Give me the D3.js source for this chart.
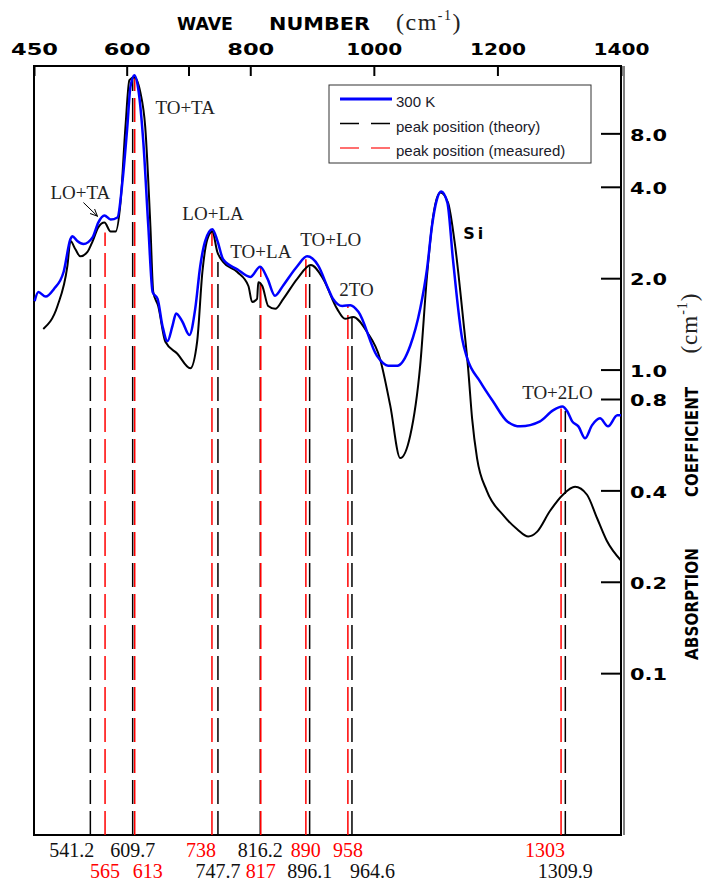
<!DOCTYPE html>
<html><head><meta charset="utf-8">
<script src="https://cdn.jsdelivr.net/npm/d3@7"></script>
<style>body{margin:0;background:#fff}svg{display:block}</style>
</head><body><svg id="c" width="704" height="884"></svg>
<script>
// ---------- data ----------
const blueNu = [451,457,469,482,498,509,512,520,530,545,554,564,574,585,593,601,606,612.5,619,627,635,642,650,658,666,674,680,690,701.5,711,719,727,738.6,747,756,779,800,816,828,840,853,876,892,910,926,934,949,962,975,1005,1023,1038,1059,1075,1086,1094,1102,1109,1119,1128,1143,1151,1172,1193,1216,1237,1269,1290,1305,1313,1321,1331,1342,1353,1366,1379,1394,1400];
const blueVal = [1.68,1.80,1.74,1.84,2.10,2.69,2.75,2.65,2.59,2.73,3.05,3.22,3.12,3.17,4.13,6.30,8.52,9.33,8.33,5.59,2.96,1.80,1.71,1.39,1.24,1.39,1.53,1.44,1.30,1.59,2.19,2.65,2.90,2.65,2.31,2.14,2.02,2.18,1.99,1.75,1.89,2.19,2.36,2.2,1.85,1.71,1.62,1.63,1.55,1.11,1.03,1.03,1.20,1.585,2.14,2.96,3.63,3.86,3.55,2.31,1.26,1.09,0.913,0.785,0.675,0.65,0.675,0.734,0.756,0.729,0.675,0.65,0.594,0.655,0.691,0.65,0.707,0.707];
const blackNu = [465,488,504,509,517,525,536.5,545,554,564,574,582,590,598,604.4,612.5,622,630,638.4,643,651,662.6,682,703,714,722.5,730.6,738.6,746.7,756.4,779,797,803,811,813,819.5,829,840.5,853.5,876,898,918,940.6,953.5,966.5,989,1010,1026.5,1042.7,1059,1075,1086,1096,1107.5,1120,1131.6,1144.5,1152.6,1159,1167,1183,1209,1232,1250,1264,1285,1306,1325.6,1345,1361,1377,1400];
const blackVal = [1.36,1.62,2.19,2.65,2.49,2.36,2.44,2.65,2.94,3.05,2.85,2.85,3.55,6.30,8.98,9.19,8.21,6.30,2.96,1.80,1.62,1.235,1.128,1.01,1.235,2.095,2.69,2.85,2.44,2.26,2.095,1.885,1.67,1.71,1.94,1.885,1.62,1.585,1.71,1.99,2.21,1.99,1.585,1.47,1.49,1.33,1.086,0.762,0.511,0.608,1.031,2.03,3.2,3.83,3.55,2.55,1.47,1.0075,0.691,0.511,0.398,0.332,0.298,0.282,0.292,0.342,0.387,0.411,0.387,0.325,0.273,0.235];

const theoryPeaks   = [541.2, 609.7, 747.7, 816.2, 896.1, 964.6, 1309.9];
const theoryLabels  = ["541.2","609.7","747.7","816.2","896.1","964.6","1309.9"];
const theoryTop     = [2.31, 9.2, 2.26, 1.96, 2.19, 1.49, 0.73];
const measuredPeaks = [565, 613, 738, 817, 890, 958, 1303];
const measuredLabels= ["565","613","738","817","890","958","1303"];
const measuredTop   = [2.83, 9.2, 2.9, 2.18, 2.31, 1.62, 0.745];

const topTicks = [450, 600, 700, 800, 1000, 1200, 1400];
const topTickLabels = ["450","600","","800","1000","1200","1400"];
const yTicks = [0.1, 0.2, 0.4, 0.8, 1, 2, 4, 6];
const yTickLabels = ["0.1","0.2","0.4","0.8","1.0","2.0","4.0","8.0"];

const annotText = ["TO+TA","LO+TA","LO+LA","TO+LA","TO+LO","2TO","TO+2LO"];
const annotNu   = [646.5, 476.7, 690.1, 767.8, 881, 944, 1240];
const annotVal  = [6.95, 3.66, 3.10, 2.328, 2.548, 1.747, 0.803];
const siNu = 1144.5, siVal = 2.687;
const arrowNu = [530, 552.7], arrowVal = [3.55, 3.2];

// ---------- layout ----------
const svg = d3.select("#c");
const L = 34, R = 621, T = 66, B = 835;
const x = d3.scaleLinear().domain([450, 1400]).range([L, R]);
const y = d3.scaleLog().domain([0.0293, 10]).range([B, T]);

// frame
svg.append("rect").attr("x", L).attr("y", T).attr("width", R - L).attr("height", B - T)
  .attr("fill", "none").attr("stroke", "#000").attr("stroke-width", 2);
svg.append("line").attr("x1", R + 3).attr("x2", R + 3).attr("y1", T).attr("y2", B)
  .attr("stroke", "#000").attr("stroke-width", 1);

// top axis
const topAxis = d3.axisTop(x).tickValues(topTicks).tickSize(-10).tickPadding(11)
  .tickFormat((d, i) => topTickLabels[i]);
const gt = svg.append("g").attr("transform", `translate(0,${T})`).call(topAxis);
gt.select(".domain").remove();
gt.selectAll(".tick line").attr("stroke", "#000").attr("stroke-width", 2);
gt.selectAll(".tick text").attr("font-family", "DejaVu Sans").attr("font-weight", "bold")
  .attr("font-size", 16).attr("fill", "#000")
  .attr("textLength", (d, i) => topTickLabels[i].length ? (topTickLabels[i].length === 3 ? 47 : 56) : null)
  .attr("lengthAdjust", "spacingAndGlyphs");

// top title
svg.append("text").attr("x", 177).attr("y", 30).attr("font-family", "DejaVu Sans").attr("font-weight", "bold")
  .attr("font-size", 17).attr("textLength", 56).attr("lengthAdjust", "spacingAndGlyphs").text("WAVE");
svg.append("text").attr("x", 269).attr("y", 30).attr("font-family", "DejaVu Sans").attr("font-weight", "bold")
  .attr("font-size", 17).attr("textLength", 101).attr("lengthAdjust", "spacingAndGlyphs").text("NUMBER");
const tu = svg.append("text").attr("x", 396).attr("y", 30).attr("font-family", "Liberation Serif")
  .attr("font-size", 24).attr("fill", "#222").attr("letter-spacing", 1.5);
tu.append("tspan").text("(cm");
tu.append("tspan").attr("font-size", 14).attr("dy", -10).text("-1");
tu.append("tspan").attr("dy", 10).text(")");

// right axis
const rAxis = d3.axisRight(y).tickValues(yTicks).tickSize(-20).tickPadding(9)
  .tickFormat((d, i) => yTickLabels[i]);
const gr = svg.append("g").attr("transform", `translate(${R},0)`).call(rAxis);
gr.select(".domain").remove();
gr.selectAll(".tick line").attr("stroke", "#000").attr("stroke-width", 2);
gr.selectAll(".tick text").attr("font-family", "DejaVu Sans").attr("font-weight", "bold")
  .attr("font-size", 16).attr("fill", "#000").attr("dy", "0.42em")
  .attr("textLength", 37).attr("lengthAdjust", "spacingAndGlyphs");

// right title
function vtext(tx, ty, str, len) {
  return svg.append("text").attr("transform", `translate(${tx},${ty}) rotate(-90)`)
    .attr("text-anchor", "middle").attr("font-family", "DejaVu Sans").attr("font-weight", "bold")
    .attr("font-size", 17).attr("textLength", len).attr("lengthAdjust", "spacingAndGlyphs").text(str);
}
vtext(698, 604, "ABSORPTION", 112);
vtext(698, 442, "COEFFICIENT", 110);
const cu = svg.append("text").attr("transform", "translate(697,323) rotate(-90)").attr("text-anchor", "middle")
  .attr("font-family", "Liberation Serif").attr("font-size", 23).attr("fill", "#222").attr("letter-spacing", 1);
cu.append("tspan").text("(cm");
cu.append("tspan").attr("font-size", 14).attr("dy", -10).text("-1");
cu.append("tspan").attr("dy", 10).text(")");

// dashed peak lines (drawn from bottom up)
function peakLines(peaks, tops, color) {
  svg.append("g").selectAll("path").data(peaks).join("path")
    .attr("d", (d, i) => `M${x(d)},${B}V${y(tops[i])}`)
    .attr("stroke", color).attr("stroke-width", 1.5).attr("fill", "none")
    .attr("stroke-dasharray", "24,7");
}
peakLines(theoryPeaks, theoryTop, "#000");
peakLines(measuredPeaks, measuredTop, "#ff0000");

// curves
const line = d3.line().curve(d3.curveMonotoneX).x(d => x(d[0])).y(d => y(d[1]));
svg.append("path").datum(blackNu.map((n, i) => [n, blackVal[i]])).attr("d", line)
  .attr("fill", "none").attr("stroke", "#000").attr("stroke-width", 2);
svg.append("path").datum(blueNu.map((n, i) => [n, blueVal[i]])).attr("d", line)
  .attr("fill", "none").attr("stroke", "#0000ff").attr("stroke-width", 2.5);

// bottom labels
const anchorTheory = ["end","middle","middle","middle","middle","start","middle"];
const anchorMeasured = ["middle","start","end","middle","middle","middle","end"];
const rowY = [857, 878];
function bottomLabels(peaks, labels, others, anchors, color) {
  svg.append("g").selectAll("text").data(peaks).join("text")
    .attr("x", (d, i) => x(d) + (anchors[i] === "end" ? 4 : anchors[i] === "start" ? -2 : 0))
    .attr("y", (d, i) => rowY[d <= others[i] ? 0 : 1])
    .attr("text-anchor", (d, i) => anchors[i])
    .attr("font-family", "Liberation Serif").attr("font-size", 20).attr("fill", color)
    .text((d, i) => labels[i]);
}
bottomLabels(theoryPeaks, theoryLabels, measuredPeaks, anchorTheory, "#111");
bottomLabels(measuredPeaks, measuredLabels, theoryPeaks, anchorMeasured, "#ff0000");

// annotations
svg.append("g").selectAll("text").data(annotText).join("text")
  .attr("x", (d, i) => x(annotNu[i])).attr("y", (d, i) => y(annotVal[i]))
  .attr("font-family", "Liberation Serif").attr("font-size", 19).attr("fill", "#222").text(d => d);
svg.append("text").attr("x", x(siNu)).attr("y", y(siVal)).attr("font-family", "DejaVu Sans")
  .attr("font-weight", "bold").attr("font-size", 16).attr("textLength", 20).attr("lengthAdjust", "spacing").text("Si");

svg.append("defs").append("marker").attr("id", "ah").attr("viewBox", "0 0 10 10").attr("refX", 9).attr("refY", 5)
  .attr("markerWidth", 8).attr("markerHeight", 8).attr("orient", "auto")
  .append("path").attr("d", "M0,1L9,5L0,9").attr("fill", "none").attr("stroke", "#000").attr("stroke-width", 1.2);
svg.append("line").attr("x1", x(arrowNu[0])).attr("y1", y(arrowVal[0])).attr("x2", x(arrowNu[1])).attr("y2", y(arrowVal[1]))
  .attr("stroke", "#000").attr("stroke-width", 1).attr("marker-end", "url(#ah)");

// legend
const lg = svg.append("g");
lg.append("rect").attr("x", 329).attr("y", 85).attr("width", 262).attr("height", 78)
  .attr("fill", "#fff").attr("stroke", "#333").attr("stroke-width", 1);
const legItems = [
  {label: "300 K", color: "#0000ff", dash: null, w: 3},
  {label: "peak position (theory)", color: "#000", dash: "19,12", w: 1.5},
  {label: "peak position (measured)", color: "#ff4040", dash: "19,12", w: 1.5}
];
legItems.forEach((it, i) => {
  const cy = 99 + i * 24.5;
  lg.append("line").attr("x1", 340).attr("x2", 392).attr("y1", cy).attr("y2", cy)
    .attr("stroke", it.color).attr("stroke-width", it.w).attr("stroke-dasharray", it.dash);
  lg.append("text").attr("x", 396).attr("y", cy + 8).attr("font-family", "Liberation Sans")
    .attr("font-size", 15).attr("fill", "#1a1a2a").text(it.label);
});
</script></body></html>
